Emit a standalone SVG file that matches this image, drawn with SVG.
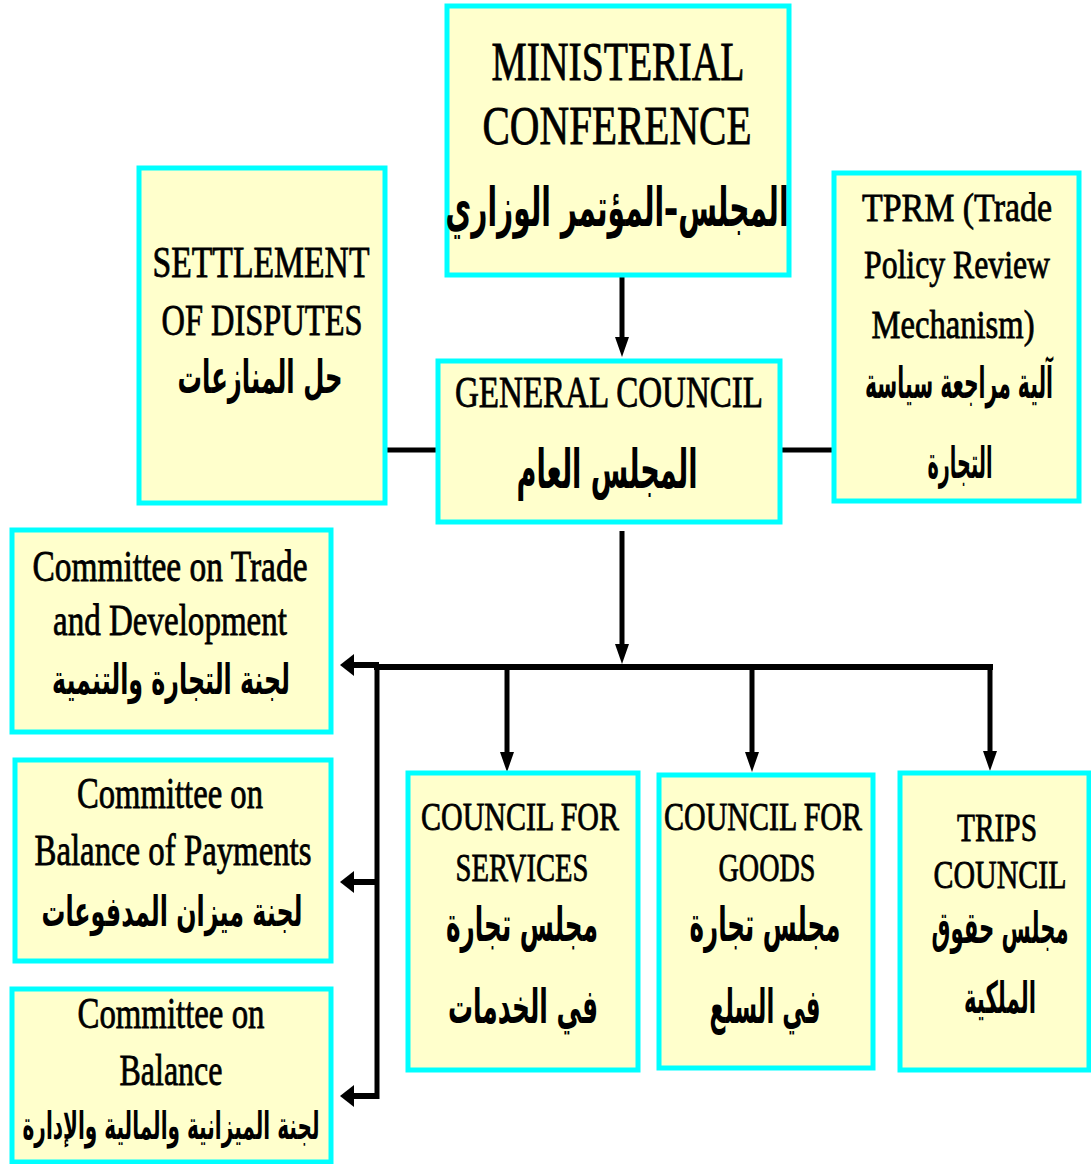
<svg xmlns="http://www.w3.org/2000/svg" width="1091" height="1164" viewBox="0 0 1091 1164">
<style>
.box{fill:#FFFFCC;stroke:#00FFFF;stroke-width:5}
.en{font-family:"Liberation Serif","Times New Roman",serif;fill:#000;stroke:#000;stroke-width:0.8;text-anchor:middle}
.ar{font-family:"DejaVu Sans",sans-serif;font-weight:bold;fill:#000;text-anchor:middle}
.ln{stroke:#000;stroke-width:5;fill:none}
</style>
<defs>
<marker id="ahD" markerUnits="userSpaceOnUse" markerWidth="20" markerHeight="14" refX="0" refY="7" orient="auto" overflow="visible">
<path d="M0,0 L20,7 L0,14 z" fill="#000"/>
</marker>
<marker id="ahL" markerUnits="userSpaceOnUse" markerWidth="14" markerHeight="22" refX="0" refY="11" orient="auto" overflow="visible">
<path d="M0,0 L14,11 L0,22 z" fill="#000"/>
</marker>
</defs>
<rect width="1091" height="1164" fill="#FFFFFF"/>

<g id="connectors">
<path class="ln" d="M622,276 V337" marker-end="url(#ahD)"/>
<path class="ln" d="M622,531 V644" marker-end="url(#ahD)"/>
<path class="ln" d="M387,450 H438"/>
<path class="ln" d="M780,450 H834"/>
<path d="M374,667 H993" stroke="#000" stroke-width="6" fill="none"/>
<path class="ln" d="M507,667 V752" marker-end="url(#ahD)"/>
<path class="ln" d="M752,667 V752" marker-end="url(#ahD)"/>
<path class="ln" d="M990,664 V751" marker-end="url(#ahD)"/>
<path class="ln" d="M377,665 V1099"/>
<path d="M379,665 H354" stroke="#000" stroke-width="6" fill="none" marker-end="url(#ahL)"/>
<path d="M379,882 H354" stroke="#000" stroke-width="6" fill="none" marker-end="url(#ahL)"/>
<path d="M379,1096 H354" stroke="#000" stroke-width="6" fill="none" marker-end="url(#ahL)"/>
</g>

<g id="ministerial">
<rect class="box" x="447" y="6" width="342" height="269"/>
<text class="en" x="618" y="80" font-size="55" textLength="253" lengthAdjust="spacingAndGlyphs">MINISTERIAL</text>
<text class="en" x="617" y="144" font-size="55" textLength="269" lengthAdjust="spacingAndGlyphs">CONFERENCE</text>
<text class="ar" x="617" y="226" font-size="54" textLength="343" lengthAdjust="spacingAndGlyphs">المجلس–المؤتمر الوزاري</text>
</g>

<g id="settlement">
<rect class="box" x="139" y="168" width="246" height="335"/>
<text class="en" x="261" y="277" font-size="45" textLength="217" lengthAdjust="spacingAndGlyphs">SETTLEMENT</text>
<text class="en" x="262" y="335" font-size="45" textLength="201" lengthAdjust="spacingAndGlyphs">OF DISPUTES</text>
<text class="ar" x="260" y="393" font-size="46" textLength="165" lengthAdjust="spacingAndGlyphs">حل المنازعات</text>
</g>

<g id="tprm">
<rect class="box" x="834" y="173" width="245" height="328"/>
<text class="en" x="957" y="221" font-size="41" textLength="190" lengthAdjust="spacingAndGlyphs">TPRM (Trade</text>
<text class="en" x="957" y="278" font-size="41" textLength="186" lengthAdjust="spacingAndGlyphs">Policy Review</text>
<text class="en" x="953" y="338" font-size="41" textLength="163" lengthAdjust="spacingAndGlyphs">Mechanism)</text>
<text class="ar" x="959" y="398" font-size="44" textLength="188" lengthAdjust="spacingAndGlyphs">آلية مراجعة سياسة</text>
<text class="ar" x="960" y="478" font-size="44" textLength="65" lengthAdjust="spacingAndGlyphs">التجارة</text>
</g>

<g id="general-council">
<rect class="box" x="438" y="361" width="342" height="161"/>
<text class="en" x="609" y="407" font-size="44" textLength="308" lengthAdjust="spacingAndGlyphs">GENERAL COUNCIL</text>
<text class="ar" x="607" y="488" font-size="54" textLength="181" lengthAdjust="spacingAndGlyphs">المجلس العام</text>
</g>

<g id="committee-trade-development">
<rect class="box" x="12" y="530" width="319" height="202"/>
<text class="en" x="170" y="581" font-size="44" textLength="275" lengthAdjust="spacingAndGlyphs">Committee on Trade</text>
<text class="en" x="170" y="635" font-size="44" textLength="234" lengthAdjust="spacingAndGlyphs">and Development</text>
<text class="ar" x="171" y="694" font-size="42" textLength="238" lengthAdjust="spacingAndGlyphs">لجنة التجارة والتنمية</text>
</g>

<g id="committee-balance-payments">
<rect class="box" x="15" y="760" width="316" height="201"/>
<text class="en" x="170" y="808" font-size="44" textLength="186" lengthAdjust="spacingAndGlyphs">Committee on</text>
<text class="en" x="173" y="865" font-size="44" textLength="277" lengthAdjust="spacingAndGlyphs">Balance of  Payments</text>
<text class="ar" x="172" y="926" font-size="42" textLength="261" lengthAdjust="spacingAndGlyphs">لجنة ميزان المدفوعات</text>
</g>

<g id="committee-balance">
<rect class="box" x="12" y="989" width="319" height="173"/>
<text class="en" x="171" y="1028" font-size="44" textLength="187" lengthAdjust="spacingAndGlyphs">Committee on</text>
<text class="en" x="171" y="1085" font-size="44" textLength="103" lengthAdjust="spacingAndGlyphs">Balance</text>
<text class="ar" x="171" y="1139" font-size="38" textLength="297" lengthAdjust="spacingAndGlyphs">لجنة الميزانية والمالية والإدارة</text>
</g>

<g id="council-services">
<rect class="box" x="408" y="773" width="230" height="297"/>
<text class="en" x="520" y="830" font-size="41" textLength="198" lengthAdjust="spacingAndGlyphs">COUNCIL FOR</text>
<text class="en" x="522" y="881" font-size="41" textLength="133" lengthAdjust="spacingAndGlyphs">SERVICES</text>
<text class="ar" x="522" y="941" font-size="48" textLength="152" lengthAdjust="spacingAndGlyphs">مجلس تجارة</text>
<text class="ar" x="523" y="1023" font-size="48" textLength="150" lengthAdjust="spacingAndGlyphs">في الخدمات</text>
</g>

<g id="council-goods">
<rect class="box" x="659" y="775" width="214" height="293"/>
<text class="en" x="763" y="830" font-size="41" textLength="198" lengthAdjust="spacingAndGlyphs">COUNCIL FOR</text>
<text class="en" x="767" y="881" font-size="41" textLength="97" lengthAdjust="spacingAndGlyphs">GOODS</text>
<text class="ar" x="765" y="941" font-size="48" textLength="151" lengthAdjust="spacingAndGlyphs">مجلس تجارة</text>
<text class="ar" x="765" y="1023" font-size="48" textLength="111" lengthAdjust="spacingAndGlyphs">في السلع</text>
</g>

<g id="trips-council">
<rect class="box" x="900" y="773" width="189" height="297"/>
<text class="en" x="997" y="841" font-size="41" textLength="80" lengthAdjust="spacingAndGlyphs">TRIPS</text>
<text class="en" x="1000" y="888" font-size="41" textLength="133" lengthAdjust="spacingAndGlyphs">COUNCIL</text>
<text class="ar" x="1000" y="943" font-size="44" textLength="137" lengthAdjust="spacingAndGlyphs">مجلس حقوق</text>
<text class="ar" x="1000" y="1013" font-size="44" textLength="72" lengthAdjust="spacingAndGlyphs">الملكية</text>
</g>
</svg>
